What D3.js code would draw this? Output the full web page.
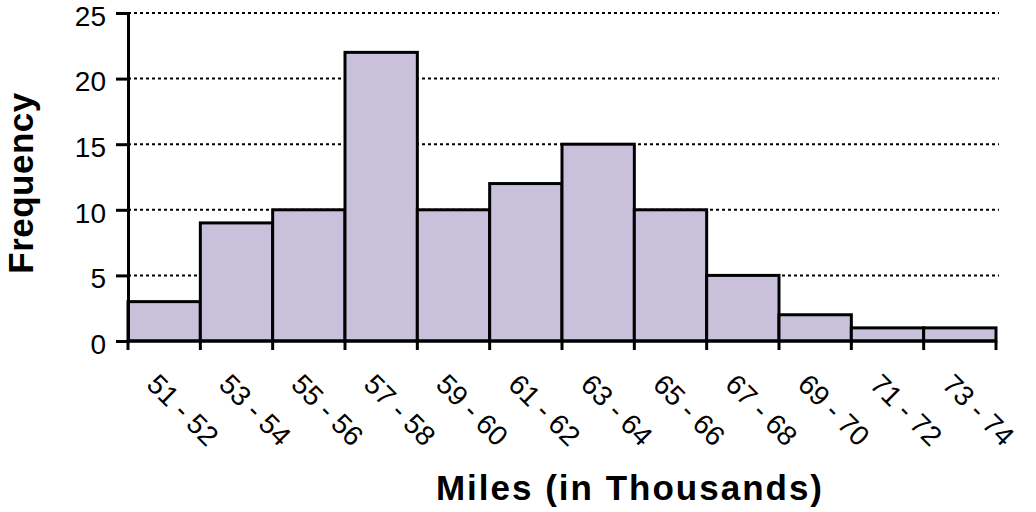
<!DOCTYPE html>
<html><head><meta charset="utf-8">
<script src="https://cdn.jsdelivr.net/npm/d3@7"></script>
<style>body{margin:0;background:#fff}svg{display:block}text{font-family:"Liberation Sans",Arial,sans-serif}</style>
</head><body>
<svg id="c" width="1036" height="512"></svg>
<script>
const categories = ["51 - 52","53 - 54","55 - 56","57 - 58","59 - 60","61 - 62","63 - 64","65 - 66","67 - 68","69 - 70","71 - 72","73 - 74"];
const frequency = [3, 9, 10, 22, 10, 12, 15, 10, 5, 2, 1, 1];
const yTicks = [0, 5, 10, 15, 20, 25];

const svg = d3.select("#c");
const L = 128, R = 996, T = 13, B = 341;
const x = d3.scaleBand().domain(categories).range([L, R]).padding(0);
const y = d3.scaleLinear().domain([0, 25]).range([B, T]);

// gridlines
svg.append("g").selectAll("line").data(yTicks.filter(d => d > 0)).join("line")
  .attr("x1", L).attr("x2", R + 3).attr("y1", d => y(d)).attr("y2", d => y(d))
  .attr("stroke", "#000").attr("stroke-width", 2).attr("stroke-dasharray", "3,3");

// bars
svg.append("g").selectAll("rect").data(frequency).join("rect")
  .attr("x", (d, i) => x(categories[i])).attr("width", x.bandwidth())
  .attr("y", d => y(d)).attr("height", d => B - y(d))
  .attr("fill", "#C9C0DB").attr("stroke", "#000").attr("stroke-width", 3);

// y axis
const yAxis = svg.append("g").attr("transform", `translate(${L},0)`)
  .call(d3.axisLeft(y).tickValues(yTicks).tickSize(12).tickPadding(10));
yAxis.select(".domain").attr("stroke-width", 3);
yAxis.selectAll(".tick line").attr("stroke-width", 3);
yAxis.selectAll(".tick text").attr("font-size", 28).attr("fill", "#000").attr("dy", "0.44em")
  .style("font-family", '"Liberation Sans",Arial,sans-serif');

// x axis
const xAxis = svg.append("g").attr("transform", `translate(0,${B})`)
  .call(d3.axisBottom(x).tickSize(9).tickFormat(""));
xAxis.selectAll(".tick").remove();
xAxis.select(".domain").attr("stroke-width", 3).attr("d", `M${L},0H${R}`);
const edges = categories.map(c => x(c)).concat([R]);
xAxis.selectAll("line.edge").data(edges).join("line").attr("class", "edge")
  .attr("x1", d => d).attr("x2", d => d).attr("y1", 0).attr("y2", 9)
  .attr("stroke", "#000").attr("stroke-width", 3);

// x labels rotated
svg.append("g").selectAll("text").data(categories).join("text")
  .attr("transform", d => `translate(${x(d) + x.bandwidth() / 2 - 19},${B + 45}) rotate(45)`)
  .attr("font-size", 28).attr("text-anchor", "start").attr("fill", "#000")
  .text(d => d);

// titles
svg.append("text").attr("x", 630).attr("y", 500).attr("text-anchor", "middle")
  .attr("font-size", 35).attr("font-weight", "bold").attr("letter-spacing", 2)
  .text("Miles (in Thousands)");
svg.append("text").attr("transform", "translate(33,183) rotate(-90)").attr("text-anchor", "middle")
  .attr("font-size", 35).attr("font-weight", "bold").attr("letter-spacing", 0.5)
  .text("Frequency");
</script>
</body></html>
